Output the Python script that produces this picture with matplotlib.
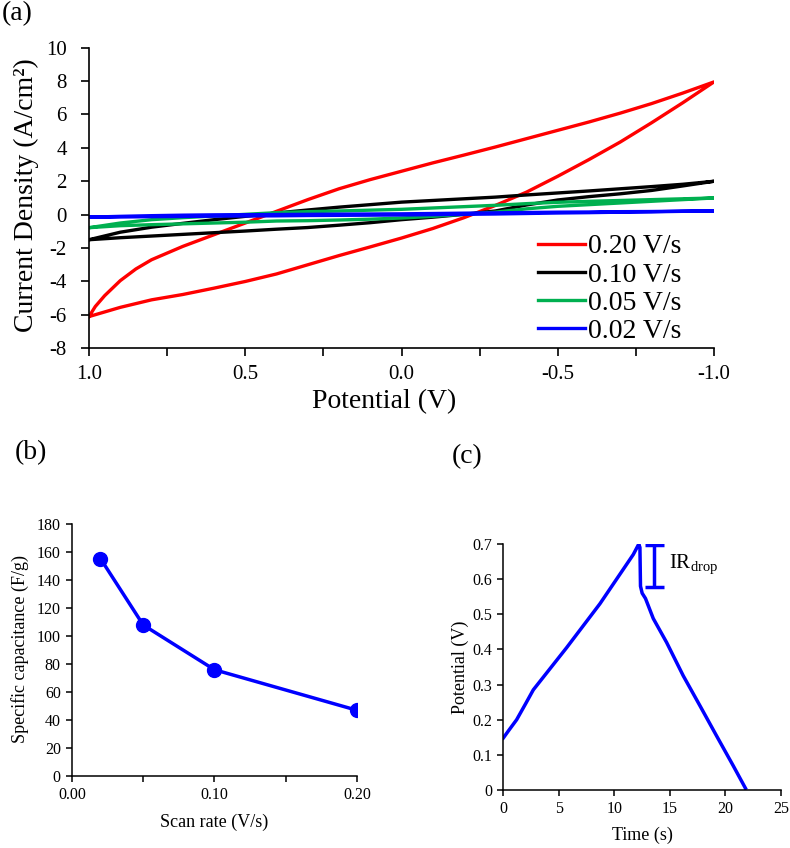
import numpy as np
import matplotlib
matplotlib.use("Agg")
import matplotlib.pyplot as plt

plt.rcParams['font.family'] = ['Liberation Serif', 'DejaVu Serif']
plt.rcParams['mathtext.fontset'] = 'custom'
plt.rcParams['mathtext.rm'] = 'Liberation Serif'
plt.rcParams['axes.unicode_minus'] = False

# (a) cyclic voltammograms: potential (V) and current density on each branch
pot = [1.0, 0.9, 0.8, 0.7, 0.6, 0.5, 0.4, 0.3, 0.2, 0.1, 0.0,
       -0.1, -0.2, -0.3, -0.4, -0.5, -0.6, -0.7, -0.8, -0.9, -1.0]
pot_fine = [1.0, 0.98, 0.95, 0.9, 0.85, 0.8, 0.7, 0.6, 0.5, 0.4, 0.3, 0.2, 0.1, 0.0,
            -0.1, -0.2, -0.3, -0.4, -0.5, -0.6, -0.7, -0.8, -0.9, -1.0]
red_up = [-6.1, -5.5, -4.85, -3.95, -3.25, -2.7, -1.9, -1.2, -0.5, 0.2, 0.9, 1.55, 2.1, 2.6,
          3.1, 3.57, 4.05, 4.55, 5.05, 5.55, 6.08, 6.65, 7.28, 7.95]
red_down = [-6.1, -5.55, -5.1, -4.78, -4.4, -4.0, -3.55, -3.0, -2.45, -1.93, -1.4,
            -0.83, -0.18, 0.55, 1.35, 2.3, 3.3, 4.35, 5.5, 6.7, 7.95]
black_up = [-1.5, -1.05, -0.75, -0.52, -0.3, -0.1, 0.1, 0.28, 0.45, 0.6, 0.75,
            0.85, 0.95, 1.05, 1.18, 1.3, 1.42, 1.55, 1.68, 1.82, 2.0]
black_down = [-1.5, -1.38, -1.28, -1.18, -1.08, -0.98, -0.87, -0.77, -0.63, -0.48, -0.3,
              -0.15, 0.02, 0.22, 0.58, 0.88, 1.08, 1.25, 1.45, 1.72, 2.0]
green_up = [-0.78, -0.5, -0.3, -0.18, -0.08, 0.02, 0.12, 0.18, 0.22, 0.27, 0.32,
            0.4, 0.48, 0.56, 0.66, 0.74, 0.8, 0.85, 0.9, 0.95, 1.0]
green_down = [-0.78, -0.66, -0.6, -0.55, -0.5, -0.45, -0.38, -0.36, -0.32, -0.27, -0.2,
              -0.1, 0.02, 0.15, 0.35, 0.5, 0.6, 0.7, 0.8, 0.9, 1.0]
blue_up = [-0.15, -0.1, -0.06, -0.03, -0.01, 0.0, 0.01, 0.02, 0.03, 0.04, 0.05,
           0.07, 0.09, 0.11, 0.13, 0.15, 0.16, 0.18, 0.19, 0.21, 0.22]
blue_down = [-0.15, -0.14, -0.12, -0.11, -0.09, -0.08, -0.07, -0.05, -0.04, -0.03, -0.02,
             0.0, 0.02, 0.04, 0.07, 0.1, 0.12, 0.15, 0.17, 0.2, 0.22]
rates = ['0.20 V/s', '0.10 V/s', '0.05 V/s', '0.02 V/s']
colors = ['#ff0000', '#000000', '#00b050', '#0000ff']

# (b) specific capacitance vs scan rate
scan_rate = [0.02, 0.05, 0.10, 0.20]
capacitance = [155.5, 108, 76, 47]

# (c) charge / discharge curve
time_s = [0, 0.5, 1.2, 2.0, 2.7, 5.7, 8.7, 11.7, 12.2, 12.3, 12.35, 12.5, 12.8, 13.5,
          14.7, 16.2, 17.7, 19.2, 20.7, 21.8]
volt = [0.148, 0.17, 0.2, 0.245, 0.285, 0.405, 0.53, 0.67, 0.70, 0.69, 0.58, 0.56, 0.545, 0.488,
        0.42, 0.325, 0.24, 0.154, 0.069, 0.005]
ir_t, ir_top, ir_bot, ir_cap = 13.6, 0.697, 0.577, 0.85

fig = plt.figure(figsize=(7.9, 8.48), dpi=100)

# ---------- (a)
ax = fig.add_axes([0.1127, 0.5893, 0.7911, 0.3545])
loops = [(pot_fine, red_up, pot, red_down), (pot, black_up, pot, black_down),
         (pot, green_up, pot, green_down), (pot, blue_up, pot, blue_down)]
for (p1, c1, p2, c2), lab, col in zip(loops, rates, colors):
    x = list(p1) + list(p2[::-1])
    y = list(c1) + list(c2[::-1])
    ax.plot(x, y, color=col, lw=2.4, label=lab, solid_joinstyle='round')
ax.set_xlim(1.0, -1.0)
ax.set_ylim(-8, 10)
ax.set_xticks([1.0, 0.5, 0.0, -0.5, -1.0])
ax.set_xticklabels(['1.0', '0.5', '0.0', '-0.5', '-1.0'])
ax.set_xticks([0.75, 0.25, -0.25, -0.75], minor=True)
ax.set_yticks(range(-8, 11, 2))
ax.tick_params(labelsize=15, length=6, width=1.2, direction='out')
ax.tick_params(axis='y', pad=10)
ax.tick_params(axis='x', pad=6)
ax.tick_params(which='minor', length=6, width=1.2)
for s in ['top', 'right']:
    ax.spines[s].set_visible(False)
for s in ['left', 'bottom']:
    ax.spines[s].set_linewidth(1.2)
ax.set_xlabel('Potential (V)', fontsize=20)
ax.set_ylabel('Current Density (A/cm²)', fontsize=20)
ax.xaxis.set_label_coords(0.472, -0.135)
ax.yaxis.set_label_coords(-0.08, 0.51)
ax.legend(loc='upper left', bbox_to_anchor=(0.718, 0.38), fontsize=20, frameon=False,
          handlelength=1.7, handletextpad=0.1, labelspacing=0.1, borderpad=0,
          borderaxespad=0)

# ---------- (b)
bx = fig.add_axes([0.0911, 0.0849, 0.3608, 0.2968])
bx.plot(scan_rate, capacitance, color='#0000ff', lw=2.5, marker='o', ms=10)
bx.set_xlim(0, 0.2)
bx.set_ylim(0, 180)
bx.set_xticks([0.0, 0.1, 0.2])
bx.set_xticklabels(['0.00', '0.10', '0.20'])
bx.set_xticks([0.05, 0.15], minor=True)
bx.set_yticks(range(0, 181, 20))
bx.tick_params(which='both', labelsize=11.5, length=4, width=1.1, pad=4)
for s in ['top', 'right']:
    bx.spines[s].set_visible(False)
for s in ['left', 'bottom']:
    bx.spines[s].set_linewidth(1.1)
bx.set_xlabel('Scan rate (V/s)', fontsize=13)
bx.set_ylabel('Specific capacitance (F/g)', fontsize=13)
bx.xaxis.set_label_coords(0.5, -0.15)
bx.yaxis.set_label_coords(-0.15, 0.505)

# ---------- (c)
cx = fig.add_axes([0.6371, 0.0684, 0.3515, 0.2901])
cx.plot(time_s, volt, color='#0000ff', lw=2.5)
cx.vlines(ir_t, ir_bot, ir_top, color='#0000ff', lw=2.5)
cx.hlines([ir_top, ir_bot], ir_t - ir_cap, ir_t + ir_cap, color='#0000ff', lw=2.5)
cx.text(ir_t + 1.35, (ir_top + ir_bot) / 2 + 0.003, r'IR$_{\mathrm{drop}}$', fontsize=15,
        va='center', ha='left')
cx.set_xlim(0, 25)
cx.set_ylim(0, 0.7)
cx.set_xticks(range(0, 26, 5))
cx.set_yticks([0, 0.1, 0.2, 0.3, 0.4, 0.5, 0.6, 0.7])
cx.set_yticklabels(['0', '0.1', '0.2', '0.3', '0.4', '0.5', '0.6', '0.7'])
cx.tick_params(labelsize=11.5, length=4, width=1.1, pad=4)
for s in ['top', 'right']:
    cx.spines[s].set_visible(False)
for s in ['left', 'bottom']:
    cx.spines[s].set_linewidth(1.1)
cx.set_xlabel('Time (s)', fontsize=13)
cx.set_ylabel('Potential (V)', fontsize=13)
cx.xaxis.set_label_coords(0.5, -0.15)
cx.yaxis.set_label_coords(-0.122, 0.5)

fig.text(0.002, 1 - 14 / 848, '(a)', fontsize=20, va='center', ha='left')
fig.text(15 / 790, 1 - 453 / 848, '(b)', fontsize=20, va='center', ha='left')
fig.text(452 / 790, 1 - 457 / 848, '(c)', fontsize=20, va='center', ha='left')

fig.savefig('out.png', dpi=100)
